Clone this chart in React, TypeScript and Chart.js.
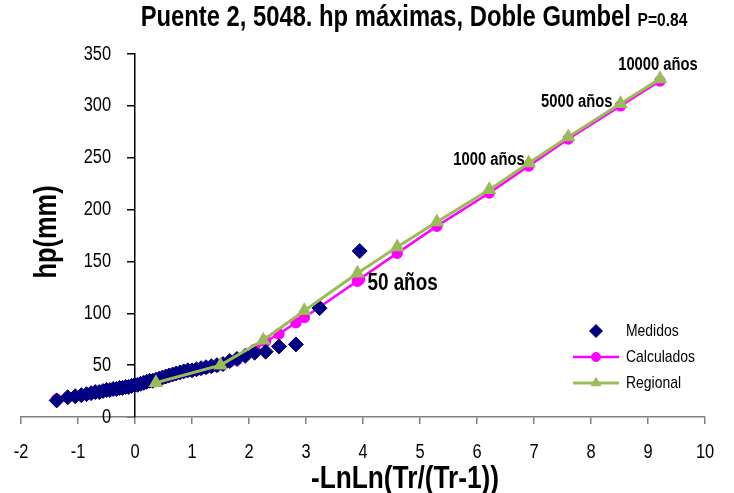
import React, { useEffect, useRef } from "react";
import { Chart, registerables } from "chart.js";
import { drawPoint } from "chart.js/helpers";

Chart.register(...registerables);

const FONT = "'Liberation Sans', Arial, sans-serif";
const SQUEEZE = 0.82;

const titleMain = "Puente 2, 5048. hp máximas, Doble Gumbel";
const titleSub = "P=0.84";
const xTitle = "-LnLn(Tr/(Tr-1))";
const yTitle = "hp(mm)";

const seriesNames = ["Medidos", "Calculados", "Regional"];

// Measured (plotting positions) sorted ascending
const medidosX = [
  -1.374, -1.181, -1.048, -0.942, -0.851, -0.77, -0.696, -0.627, -0.562, -0.5,
  -0.44, -0.383, -0.327, -0.272, -0.218, -0.164, -0.112, -0.059, -0.007, 0.046,
  0.098, 0.151, 0.204, 0.257, 0.311, 0.367, 0.423, 0.48, 0.538, 0.598,
  0.659, 0.723, 0.788, 0.856, 0.927, 1.0, 1.078, 1.159, 1.246, 1.338,
  1.437, 1.544, 1.661, 1.789, 1.934, 2.099, 2.292, 2.525, 2.823, 3.239, 3.942,
];
const medidosY = [
  16, 19, 20, 21, 22, 23, 24, 24, 25, 26,
  26, 27, 27, 28, 28, 29, 29, 30, 31, 31,
  32, 33, 34, 35, 35, 36, 37, 38, 39, 40,
  41, 42, 43, 44, 45, 45, 46, 47, 48, 49,
  50, 51, 54, 56, 59, 62, 63, 68, 70, 105, 160,
];

const calculadosX = [
  -1.374, -1.181, -1.048, -0.942, -0.851, -0.77, -0.696, -0.627, -0.562, -0.5,
  -0.44, -0.383, -0.327, -0.272, -0.218, -0.164, -0.112, -0.059, -0.007, 0.046,
  0.098, 0.151, 0.204, 0.257, 0.311, 0.367, 0.423, 0.48, 0.538, 0.598,
  0.659, 0.723, 0.788, 0.856, 0.927, 1.0, 1.078, 1.159, 1.246, 1.338,
  1.437, 1.544, 1.661, 1.789, 1.934, 2.099, 2.292, 2.525, 2.823, 2.97,
  3.239, 3.902, 3.942, 4.6, 5.296, 6.214, 6.907, 7.601, 8.517, 9.21,
];
const calculadosY = [
  17, 19, 20, 21, 22, 23, 23.5, 24, 25, 25.5,
  26, 26.5, 27, 27.5, 28, 28.5, 29, 29.5, 30, 30.5,
  31, 32, 33, 34, 34.5, 35, 36, 37, 38, 39,
  40, 41, 42, 43, 44, 44.5, 45, 46, 47, 48,
  49, 50.5, 53, 55, 59, 65, 73, 80, 91, 96,
  106, 131, 133, 158, 184, 216, 242, 268, 300, 324,
];

const regionalX = [0.367, 1.5, 2.25, 2.97, 3.902, 4.6, 5.296, 6.214, 6.907, 7.601, 8.517, 9.21];
const regionalY = [33, 50, 74, 102.5, 138.6, 164, 188, 219, 245, 270, 302, 326];

const annotLabels = ["50 años", "1000 años", "5000 años", "10000 años"];
const annotRegionalIndex = [4, 8, 10, 11];

const xTicks = [-2, -1, 0, 1, 2, 3, 4, 5, 6, 7, 8, 9, 10];
const yTicks = [0, 50, 100, 150, 200, 250, 300, 350];

const NAVY = "#000080";
const MAGENTA = "#FF00FF";
const GREEN = "#9BBB59";

const annotStyle = [
  { dx: 10, dy: 10, align: "left", size: 23 },
  { dx: -4, dy: -3, align: "right", size: 18 },
  { dx: -8, dy: -2, align: "right", size: 18 },
  { dx: -2, dy: -14, align: "center", size: 18 },
];

function sqText(ctx: CanvasRenderingContext2D, text: string, x: number, y: number, font: string, align: CanvasTextAlign, baseline: CanvasTextBaseline, rot = 0) {
  ctx.save();
  ctx.translate(x, y);
  if (rot) ctx.rotate(rot);
  ctx.scale(SQUEEZE, 1);
  ctx.font = font;
  ctx.textAlign = align;
  ctx.textBaseline = baseline;
  ctx.fillText(text, 0, 0);
  ctx.restore();
}

const textPlugin = {
  id: "customText",
  afterDraw(chart: any) {
    const ctx = chart.ctx as CanvasRenderingContext2D;
    const xs = chart.scales.x;
    const ys = chart.scales.y;
    ctx.save();
    ctx.fillStyle = "#000";

    // Title
    const mainFont = `bold 29px ${FONT}`;
    const subFont = `bold 19px ${FONT}`;
    ctx.font = mainFont;
    const w1 = ctx.measureText(titleMain + " ").width * SQUEEZE;
    ctx.font = subFont;
    const w2 = ctx.measureText(titleSub).width * SQUEEZE;
    const start = 414 - (w1 + w2) / 2;
    sqText(ctx, titleMain, start, 26, mainFont, "left", "alphabetic");
    sqText(ctx, titleSub, start + w1, 26, subFont, "left", "alphabetic");

    // Axis titles
    sqText(ctx, yTitle, 47, 232, `bold 31px ${FONT}`, "center", "middle", -Math.PI / 2);
    sqText(ctx, xTitle, (xs.left + xs.right) / 2 + 42, 479, `bold 32px ${FONT}`, "center", "middle");

    // Tick labels
    const tickFont = `20px ${FONT}`;
    xTicks.forEach((v) => {
      sqText(ctx, String(v), xs.getPixelForValue(v), 452, tickFont, "center", "middle");
    });
    const axisX = xs.getPixelForValue(0);
    yTicks.forEach((v) => {
      sqText(ctx, String(v), axisX - 24, ys.getPixelForValue(v), tickFont, "right", "middle");
    });

    // Annotations
    annotLabels.forEach((t, i) => {
      const idx = annotRegionalIndex[i];
      const px = xs.getPixelForValue(regionalX[idx]);
      const py = ys.getPixelForValue(regionalY[idx]);
      const st = annotStyle[i];
      sqText(ctx, t, px + st.dx, py + st.dy, `bold ${st.size}px ${FONT}`, st.align as CanvasTextAlign, "middle");
    });

    // Legend
    chart.data.datasets.forEach((ds: any, i: number) => {
      const ly = 331 + i * 26;
      if (ds.showLine) {
        ctx.strokeStyle = ds.borderColor;
        ctx.lineWidth = ds.borderWidth;
        ctx.beginPath();
        ctx.moveTo(573, ly);
        ctx.lineTo(619, ly);
        ctx.stroke();
      }
      ctx.fillStyle = ds.backgroundColor;
      ctx.strokeStyle = ds.pointBorderColor || ds.borderColor;
      ctx.lineWidth = 1;
      drawPoint(ctx, { pointStyle: ds.pointStyle, radius: ds.legendRadius, rotation: 0, borderWidth: 1 }, 596, ly);
      ctx.fillStyle = "#000";
      sqText(ctx, ds.label, 626, ly, `17px ${FONT}`, "left", "middle");
    });
    ctx.restore();
  },
};

export default function App() {
  const ref = useRef<HTMLCanvasElement | null>(null);
  useEffect(() => {
    if (!ref.current) return;
    const chart = new Chart(ref.current, {
      type: "scatter",
      data: {
        datasets: [
          {
            label: seriesNames[0],
            data: medidosX.map((x, i) => ({ x, y: medidosY[i] })),
            pointStyle: "rectRot",
            pointRadius: 7.5,
            legendRadius: 6.5,
            backgroundColor: NAVY,
            borderColor: NAVY,
            pointBorderColor: NAVY,
            borderWidth: 1,
            showLine: false,
            order: 1,
          },
          {
            label: seriesNames[1],
            data: calculadosX.map((x, i) => ({ x, y: calculadosY[i] })),
            pointStyle: "circle",
            pointRadius: 4.5,
            legendRadius: 4.5,
            backgroundColor: MAGENTA,
            borderColor: MAGENTA,
            pointBorderColor: MAGENTA,
            borderWidth: 2.5,
            showLine: true,
            order: 2,
          },
          {
            label: seriesNames[2],
            data: regionalX.map((x, i) => ({ x, y: regionalY[i] })),
            pointStyle: "triangle",
            pointRadius: 5.5,
            legendRadius: 5.5,
            backgroundColor: GREEN,
            borderColor: GREEN,
            pointBorderColor: GREEN,
            borderWidth: 3,
            showLine: true,
            order: 0,
          },
        ] as any,
      },
      options: {
        animation: false,
        responsive: false,
        maintainAspectRatio: false,
        layout: { padding: { left: 21, right: 29, top: 54, bottom: 0 } },
        plugins: { legend: { display: false }, tooltip: { enabled: false }, title: { display: false } },
        scales: {
          x: {
            type: "linear",
            min: xTicks[0],
            max: xTicks[xTicks.length - 1],
            position: "bottom",
            ticks: { stepSize: 1, display: false },
            grid: { drawOnChartArea: false, drawTicks: true, tickLength: 7, color: "#808080", lineWidth: 1.5 },
            border: { color: "#808080", width: 1.5 },
            title: { display: false },
            afterFit: (s: any) => { s.height = 76; },
          },
          y: {
            type: "linear",
            min: yTicks[0],
            max: yTicks[yTicks.length - 1],
            position: { x: 0 } as any,
            ticks: { stepSize: 50, display: false },
            grid: { drawOnChartArea: false, drawTicks: true, tickLength: 7, color: "#000", lineWidth: 1.5 },
            border: { color: "#000", width: 1.5 },
          },
        } as any,
      },
      plugins: [textPlugin],
    });
    return () => chart.destroy();
  }, []);
  return (
    <div style={{ position: "absolute", left: 0, top: 0, width: 734, height: 493, background: "#fff" }}>
      <canvas ref={ref} width={734} height={493} style={{ display: "block" }} />
    </div>
  );
}
